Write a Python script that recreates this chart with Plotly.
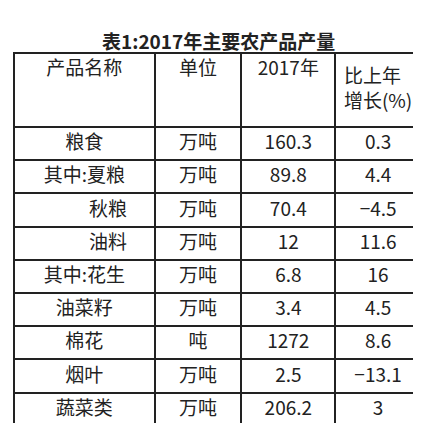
import plotly.graph_objects as go

headers = ["产品名称", "单位", "2017年", "比上年<br>增长(%)"]
names = ["粮食", "其中:夏粮", "\u3000\u3000\u2002秋粮", "\u3000\u3000\u2002油料", "其中:花生", "油菜籽", "棉花", "烟叶", "蔬菜类"]
units = ["万吨", "万吨", "万吨", "万吨", "万吨", "万吨", "吨", "万吨", "万吨"]
output_2017 = ["160.3", "89.8", "70.4", "12", "6.8", "3.4", "1272", "2.5", "206.2"]
growth = ["0.3", "4.4", "−4.5", "11.6", "16", "4.5", "8.6", "−13.1", "3"]

font = "Noto Sans CJK SC"
fig = go.Figure(go.Table(
    domain=dict(x=[6/421, 414/421], y=[5/423, 1 - 45/423]),
    columnwidth=[141, 87, 94, 86],
    header=dict(values=headers, height=74, align="center",
                line=dict(color="#222", width=2), fill_color="white",
                font=dict(family=font, size=19, color="#222")),
    cells=dict(values=[names, units, output_2017, growth], height=33.2,
               align="center",
               line=dict(color="#222", width=2), fill_color="white",
               font=dict(family=font, size=19, color="#222")),
))
fig.add_annotation(text="<b>表1:2017年主要农产品产量</b>", x=0.5, y=1 - 17/423,
                   xref="paper", yref="paper", showarrow=False,
                   font=dict(family=font, size=19, color="#222"))
fig.update_layout(width=421, height=423, margin=dict(l=0, r=0, t=0, b=0),
                  paper_bgcolor="white")
fig.write_html("out.html")
